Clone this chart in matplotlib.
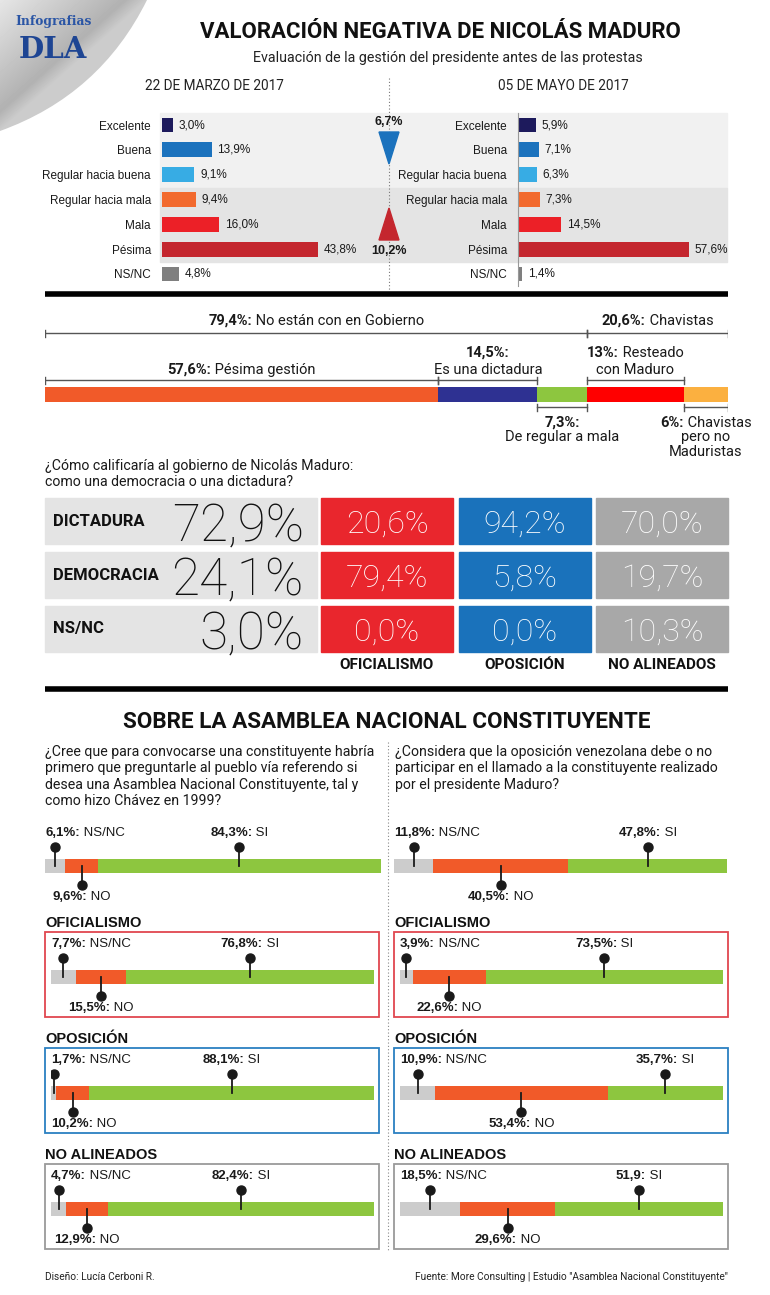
import matplotlib
matplotlib.use("Agg")
import matplotlib.pyplot as plt
import numpy as np
from matplotlib.patches import Rectangle, PathPatch
from matplotlib.path import Path

W, H = 770, 1295
SANS = ["Liberation Sans", "DejaVu Sans"]
NARROW = ["Liberation Sans Narrow", "Roboto", "DejaVu Sans"]
LIGHT = ["Roboto", "DejaVu Sans"]
INK = "#1a1a1a"

# --- valoración de la gestión ---
calificacion = ["Excelente", "Buena", "Regular hacia buena", "Regular hacia mala",
                "Mala", "Pésima", "NS/NC"]
marzo = [3.0, 13.9, 9.1, 9.4, 16.0, 43.8, 4.8]
mayo = [5.9, 7.1, 6.3, 7.3, 14.5, 57.6, 1.4]
colores_calif = ["#1d1a5c", "#1b72bd", "#37ace4", "#f26a2e", "#ec2027", "#c4262e", "#7f7f7f"]
baja_positiva = 6.7
sube_negativa = 10.2

# --- composición ---
grupos = ["No están con en Gobierno", "Chavistas"]
grupos_pct = [79.4, 20.6]
segmentos = [["Pésima gestión"], ["", "Es una dictadura"], ["", "De regular a mala"],
             ["Resteado", "con Maduro"], ["Chavistas", "pero no", "Maduristas"]]
segmentos_pct = [57.6, 14.5, 7.3, 13, 6]
segmentos_grupo = [0, 0, 0, 1, 1]
segmentos_arriba = [True, True, False, True, False]
colores_seg = ["#f15a29", "#2e3192", "#8dc63f", "#ff0000", "#fbb040"]

# --- democracia o dictadura ---
respuestas = ["DICTADURA", "DEMOCRACIA", "NS/NC"]
total = [72.9, 24.1, 3.0]
sectores = ["OFICIALISMO", "OPOSICIÓN", "NO ALINEADOS"]
oficialismo = [20.6, 79.4, 0.0]
oposicion = [94.2, 5.8, 0.0]
no_alineados = [70.0, 19.7, 10.3]
colores_sector = ["#e9262d", "#1a72bb", "#a8a8a8"]

# --- constituyente (NS/NC, NO, SI) por grupo: general, oficialismo, oposición, no alineados ---
p1_nsnc = [6.1, 7.7, 1.7, 4.7]
p1_no = [9.6, 15.5, 10.2, 12.9]
p1_si = [84.3, 76.8, 88.1, 82.4]
p2_nsnc = [11.8, 3.9, 10.9, 18.5]
p2_no = [40.5, 22.6, 53.4, 29.6]
p2_si = [47.8, 73.5, 35.7, 51.9]
colores_resp = ["#cccccc", "#f15a29", "#8dc63f"]
colores_caja = ["#e0474f", "#2b80c2", "#9a9a9a"]


def pct(v, dec=1):
    s = f"{v:.{dec}f}" if dec else f"{v:g}"
    return s.replace(".", ",") + "%"


fig = plt.figure(figsize=(7.7, 12.95), dpi=100)
bg = fig.add_axes([0, 0, 1, 1])
bg.set_xlim(0, W)
bg.set_ylim(H, 0)
bg.axis("off")
renderer = fig.canvas.get_renderer()


def px_axes(x0, y0, x1, y1):
    ax = fig.add_axes([x0 / W, 1 - y1 / H, (x1 - x0) / W, (y1 - y0) / H])
    ax.patch.set_alpha(0)
    return ax


def rich(ax, x, y, parts, ha="left", size=10, family=SANS, color=INK, min_x=None):
    # texto con partes en negrita y normales en una sola línea
    texts = [ax.text(0, 0, s, fontsize=size, family=family, color=color,
                     fontweight="bold" if b else "normal", va="center", ha="left")
             for s, b in parts]
    widths = [t.get_window_extent(renderer).width for t in texts]
    X, Y = ax.transData.transform((x, y))
    if ha == "center":
        X -= sum(widths) / 2
    elif ha == "right":
        X -= sum(widths)
    if min_x is not None:
        X = max(X, ax.transData.transform((min_x, y))[0])
    inv = ax.transData.inverted()
    for t, w in zip(texts, widths):
        t.set_position(inv.transform((X, Y)))
        X += w


# ---------- logo / esquina ----------
curl = Path([(0, 0), (147, 0), (100, 95), (0, 131), (0, 0)],
            [Path.MOVETO, Path.LINETO, Path.CURVE3, Path.CURVE3, Path.CLOSEPOLY])
gx, gy = np.meshgrid(np.linspace(0, 150, 150), np.linspace(0, 135, 135))
d = gx / 147 + gy / 131
shade = 0.9 - 0.24 * np.clip(d, 0, 1) + 0.14 * np.clip((d - 0.85) / 0.15, 0, 1)
im = bg.imshow(shade, cmap="gray", vmin=0, vmax=1, extent=(0, 150, 135, 0), zorder=0)
patch = PathPatch(curl, facecolor="none", edgecolor="none")
bg.add_patch(patch)
im.set_clip_path(patch)
bg.set_xlim(0, W)
bg.set_ylim(H, 0)
bg.text(54, 22, "Infografias", ha="center", va="center", fontsize=8.8, fontweight="bold",
        family=["DejaVu Serif"], color="#2a55a5")
bg.text(53, 50, "DLA", ha="center", va="center", fontsize=21, fontweight="bold",
        family=["DejaVu Serif"], color="#1e4593")

# ---------- cabecera ----------
bg.text(440, 32, "VALORACIÓN NEGATIVA DE NICOLÁS MADURO", ha="center", va="center",
        fontsize=16, fontweight="bold", family=NARROW, color="#111")
bg.text(448, 58, "Evaluación de la gestión del presidente antes de las protestas", ha="center",
        va="center", fontsize=10.3, family=NARROW, color="#222")
bg.text(214, 86, "22 DE MARZO DE 2017", ha="center", va="center", fontsize=9.8, family=NARROW, color="#222")
bg.text(563, 86, "05 DE MAYO DE 2017", ha="center", va="center", fontsize=9.8, family=NARROW, color="#222")

bg.add_patch(Rectangle((160, 113), 567, 75, color="#f1f1f1", zorder=0))
bg.add_patch(Rectangle((160, 188), 567, 74, color="#e4e4e4", zorder=0))
bg.plot([389, 389], [78, 290], color="#777", lw=0.8, ls=(0, (1, 2)), zorder=1)

for datos, box, lim in [(marzo, (162, 376), 60), (mayo, (518, 726), 70)]:
    ax = px_axes(box[0], 112.6, box[1], 286.4)
    ax.set_xlim(0, lim)
    ax.set_ylim(6.5, -0.5)
    bars = ax.barh(range(len(calificacion)), datos, height=0.6, color=colores_calif)
    ax.bar_label(bars, labels=[pct(v) for v in datos], padding=4, fontsize=8.5,
                 family=SANS, color=INK)
    ax.set_yticks(range(len(calificacion)), calificacion, fontsize=8.5, family=SANS, color=INK)
    ax.tick_params(length=0, pad=8, bottom=False, labelbottom=False)
    for s in ax.spines.values():
        s.set_visible(False)
    if lim == 70:
        ax.spines["left"].set_visible(True)
        ax.spines["left"].set_color("#999")
        ax.spines["left"].set_linewidth(0.8)

bg.fill([379, 399, 389], [132, 132, 164], color="#1b72bd", zorder=2)
bg.fill([379, 399, 389], [240, 240, 208], color="#c4262e", zorder=2)
bg.text(389, 122, pct(baja_positiva), ha="center", va="center", fontsize=9, fontweight="bold", family=SANS, color=INK)
bg.text(389, 251, pct(sube_negativa), ha="center", va="center", fontsize=9, fontweight="bold", family=SANS, color=INK)

bg.plot([45, 728], [294, 294], color="#000", lw=4, solid_capstyle="butt")

# ---------- composición ----------
axs = px_axes(45, 300, 728, 460)
axs.set_xlim(0, 100)
axs.set_ylim(460, 300)
axs.axis("off")

# los dos subgrupos chavistas se reparten el 20,6% del grupo
k = grupos_pct[1] / (segmentos_pct[3] + segmentos_pct[4])
anchos = [v if g == 0 else v * k for v, g in zip(segmentos_pct, segmentos_grupo)]
izq = np.concatenate([[0], np.cumsum(anchos)[:-1]])
axs.barh(394, anchos, left=izq, height=15, color=colores_seg)


def bracket(ax, x0, x1, y):
    ax.plot([x0, x1], [y, y], color="#555", lw=1)
    ax.plot([x0, x0], [y - 3.5, y + 3.5], color="#555", lw=1)
    ax.plot([x1, x1], [y - 3.5, y + 3.5], color="#555", lw=1)


g0 = 0
for g, v in zip(grupos, grupos_pct):
    bracket(axs, g0, g0 + v, 333)
    rich(axs, g0 + v / 2, 321, [(pct(v) + ":", True), (" " + g, False)], ha="center",
         size=10.5, family=NARROW)
    g0 += v

for i, (lineas, v) in enumerate(zip(segmentos, segmentos_pct)):
    x0, x1 = izq[i], izq[i] + anchos[i]
    cx = (x0 + x1) / 2
    etiqueta = pct(v, 1 if v != int(v) else 0) + ":"
    if segmentos_arriba[i]:
        bracket(axs, x0, x1, 380)
        ys = [370 - 17 * (len(lineas) - 1 - j) for j in range(len(lineas))]
    else:
        bracket(axs, x0, x1, 407)
        ys = [423 + 14.5 * j for j in range(len(lineas))]
    primera = [(etiqueta, True)] + ([(" " + lineas[0], False)] if lineas[0] else [])
    rich(axs, cx, ys[0], primera, ha="center", size=10.5, family=NARROW)
    for txt, y in zip(lineas[1:], ys[1:]):
        axs.text(cx, y, txt, ha="center", va="center", fontsize=10.5, family=NARROW, color=INK)

# ---------- democracia / dictadura ----------
bg.text(45, 466, "¿Cómo calificaría al gobierno de Nicolás Maduro:", ha="left", va="center",
        fontsize=10.2, family=NARROW, color=INK)
bg.text(45, 482, "como una democracia o una dictadura?", ha="left", va="center",
        fontsize=10.2, family=NARROW, color=INK)

fila_y = [498, 552, 606]
fila_h = 46
col_x = [321, 459, 596]
col_w = 132
columnas = [oficialismo, oposicion, no_alineados]
for i, resp in enumerate(respuestas):
    t = fila_y[i]
    bg.add_patch(Rectangle((45, t), 272, fila_h, color="#e4e4e4"))
    bg.text(53, t + fila_h / 2, resp, ha="left", va="center", fontsize=12, fontweight="bold",
            family=NARROW, color="#111")
    bg.text(304, t + 43, pct(total[i]), ha="right", va="baseline", fontsize=37,
            fontweight="light", family=LIGHT, color="#111")
    for j, col in enumerate(columnas):
        bg.add_patch(Rectangle((col_x[j], t), col_w, fila_h, color=colores_sector[j]))
        bg.text(col_x[j] + col_w / 2, t + 35, pct(col[i]), ha="center", va="baseline",
                fontsize=23, fontweight="light", family=LIGHT, color="white")
for j, s in enumerate(sectores):
    bg.text(col_x[j] + col_w / 2, 665, s, ha="center", va="center", fontsize=11,
            fontweight="bold", family=NARROW, color="#111")

bg.plot([45, 728], [689, 689], color="#000", lw=4, solid_capstyle="butt")

# ---------- asamblea constituyente ----------
bg.text(387, 722, "SOBRE LA ASAMBLEA NACIONAL CONSTITUYENTE", ha="center", va="center",
        fontsize=16.2, fontweight="bold", family=NARROW, color="#111")
preg1 = ["¿Cree que para convocarse una constituyente habría",
         "primero que preguntarle al pueblo vía referendo si",
         "desea una Asamblea Nacional Constituyente, tal y",
         "como hizo Chávez en 1999?"]
preg2 = ["¿Considera que la oposición venezolana debe o no",
         "participar en el llamado a la constituyente realizado",
         "por el presidente Maduro?"]
for j, l in enumerate(preg1):
    bg.text(45, 752 + 16.3 * j, l, ha="left", va="center", fontsize=10.2, family=NARROW, color=INK)
for j, l in enumerate(preg2):
    bg.text(395, 752 + 16.3 * j, l, ha="left", va="center", fontsize=10.2, family=NARROW, color=INK)
bg.plot([388, 388], [742, 1250], color="#888", lw=0.8, ls=(0, (1, 2)))


def panel(x0, x1, top, nsnc, no, si):
    ax = px_axes(x0, top - 40, x1, top + 50)
    ax.set_xlim(0, 100)
    ax.set_ylim(50, -40)
    ax.axis("off")
    vals = np.array([nsnc, no, si])
    lefts = np.concatenate([[0], np.cumsum(vals)[:-1]])
    ax.barh(7, vals, left=lefts, height=14, color=colores_resp)
    centros = lefts + vals / 2
    for c, yd in zip(centros, [-12, 26, -12]):
        ax.plot([c, c], [yd, 7], color=INK, lw=1.3, zorder=3)
        ax.plot(c, yd, "o", ms=6.5, color=INK, zorder=4)
    rich(ax, 0, -26, [(pct(nsnc) + ":", True), (" NS/NC", False)], ha="left", size=9.5)
    rich(ax, centros[1], 38, [(pct(no) + ":", True), (" NO", False)], ha="center", size=9.5,
         min_x=0)
    si_txt = pct(si) if si != 51.9 else "51,9"
    rich(ax, centros[2], -26, [(si_txt + ":", True), (" SI", False)], ha="center", size=9.5)


panel(45, 381, 859, p1_nsnc[0], p1_no[0], p1_si[0])
panel(394, 727, 859, p2_nsnc[0], p2_no[0], p2_si[0])
for g in range(3):
    hy = 923 + 116 * g
    for lado, (bx0, bx1, b0, b1, nsnc, no, si) in enumerate(
            [(45, 379, 51, 374, p1_nsnc, p1_no, p1_si),
             (394, 728, 400, 723, p2_nsnc, p2_no, p2_si)]):
        bg.text(bx0, hy, sectores[g], ha="left", va="center", fontsize=10.5, fontweight="bold",
                family=SANS, color="#111")
        bg.add_patch(Rectangle((bx0, hy + 9), bx1 - bx0, 85, fill=False,
                               edgecolor=colores_caja[g], lw=1.3))
        panel(b0, b1, hy + 47, nsnc[g + 1], no[g + 1], si[g + 1])

bg.text(45, 1277, "Diseño: Lucía Cerboni R.", ha="left", va="center", fontsize=7.3,
        family=NARROW, color="#222")
bg.text(728, 1277, "Fuente: More Consulting | Estudio \"Asamblea Nacional Constituyente\"",
        ha="right", va="center", fontsize=7.3, family=NARROW, color="#222")

fig.savefig("out.png", dpi=100)
